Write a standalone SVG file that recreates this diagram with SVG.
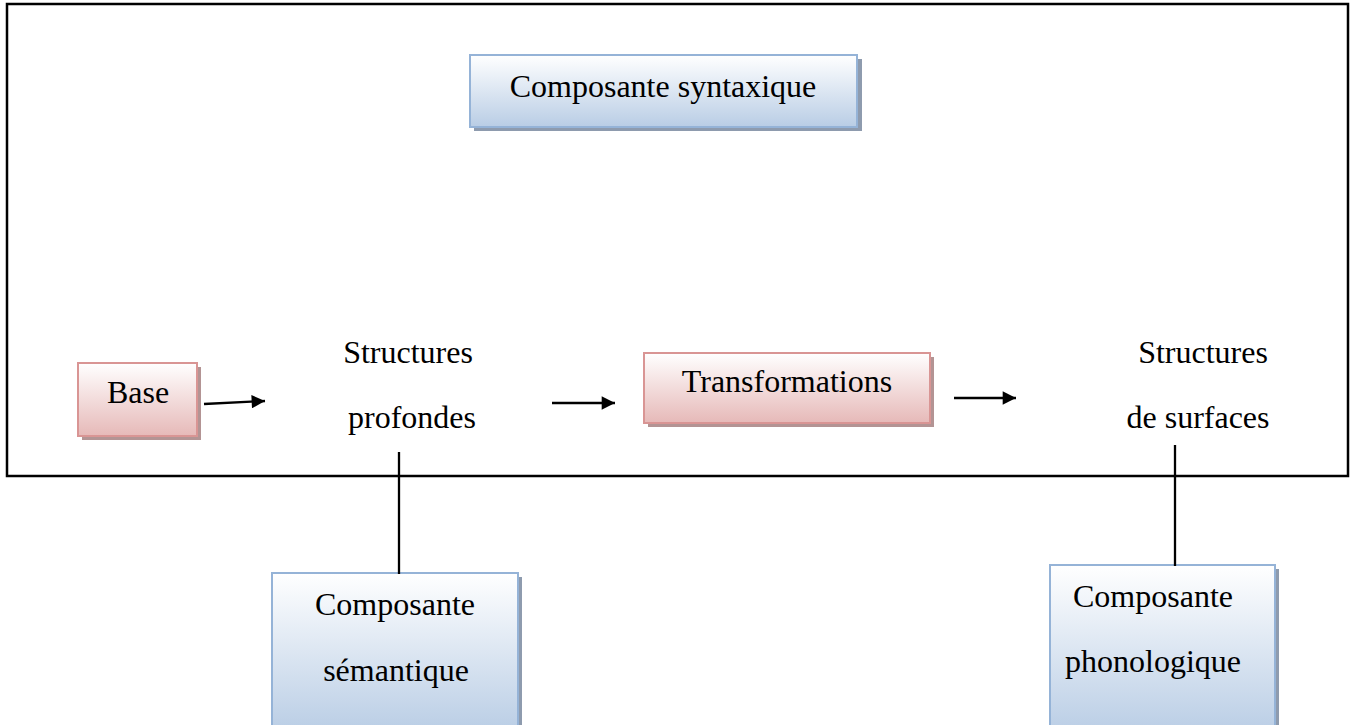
<svg xmlns="http://www.w3.org/2000/svg" width="1355" height="725" viewBox="0 0 1355 725">
<defs>
<linearGradient id="gBlue" x1="0" y1="0" x2="0" y2="1"><stop offset="0" stop-color="#ffffff"/><stop offset="1" stop-color="#b9cde5"/></linearGradient>
<linearGradient id="gPink" x1="0" y1="0" x2="0" y2="1"><stop offset="0" stop-color="#ffffff"/><stop offset="1" stop-color="#e6b9b8"/></linearGradient>
<marker id="arr" viewBox="0 0 10 10" refX="10" refY="5" markerWidth="6.5" markerHeight="5.8" orient="auto" markerUnits="strokeWidth"><path d="M0,0 L10,5 L0,10 Z" fill="#000"/></marker>
</defs>
<style>
.t{font-family:"Liberation Serif","Times New Roman",serif;font-size:32px;fill:#000;text-anchor:middle}
.blue{fill:url(#gBlue);stroke:#95b3d7;stroke-width:2}
.pink{fill:url(#gPink);stroke:#d99594;stroke-width:2}
.shb{fill:#8e9bae}
.shp{fill:#b39494}
.ln{stroke:#000;stroke-width:2.3;fill:none}
</style>
<rect width="1355" height="725" fill="#fff"/>
<rect id="frame" x="7" y="4" width="1341" height="472" fill="none" stroke="#000" stroke-width="2.5"/>

<g id="syntaxique">
<rect class="shb" x="474" y="59" width="388" height="72"/>
<rect class="blue" x="470" y="55" width="387" height="72"/>
<text class="t" x="663" y="97">Composante syntaxique</text>
</g>

<g id="base">
<rect class="shp" x="82" y="367" width="119" height="73"/>
<rect class="pink" x="78" y="363" width="119" height="73"/>
<text class="t" x="138" y="403">Base</text>
</g>

<g id="profondes">
<text class="t" x="408" y="363">Structures</text>
<text class="t" x="412" y="428">profondes</text>
</g>

<g id="transformations">
<rect class="shp" x="648" y="357" width="286" height="70"/>
<rect class="pink" x="644" y="353" width="286" height="70"/>
<text class="t" x="787" y="392">Transformations</text>
</g>

<g id="surfaces">
<text class="t" x="1203" y="363">Structures</text>
<text class="t" x="1198" y="428">de surfaces</text>
</g>

<g id="semantique">
<rect class="shb" x="276" y="577" width="246" height="160"/>
<rect class="blue" x="272" y="573" width="246" height="160"/>
<text class="t" x="395" y="615">Composante</text>
<text class="t" x="396" y="681">sémantique</text>
</g>

<g id="phonologique">
<rect class="shb" x="1054" y="569" width="225" height="170"/>
<rect class="blue" x="1050" y="565" width="225" height="170"/>
<text class="t" x="1153" y="607">Composante</text>
<text class="t" x="1153" y="672">phonologique</text>
</g>

<g id="connectors">
<line class="ln" x1="204" y1="404" x2="265" y2="401" marker-end="url(#arr)"/>
<line class="ln" x1="552" y1="403" x2="615" y2="403" marker-end="url(#arr)"/>
<line class="ln" x1="954" y1="398" x2="1016" y2="398" marker-end="url(#arr)"/>
<line class="ln" x1="399" y1="452" x2="399" y2="574"/>
<line class="ln" x1="1175" y1="445" x2="1175" y2="566"/>
</g>
</svg>
